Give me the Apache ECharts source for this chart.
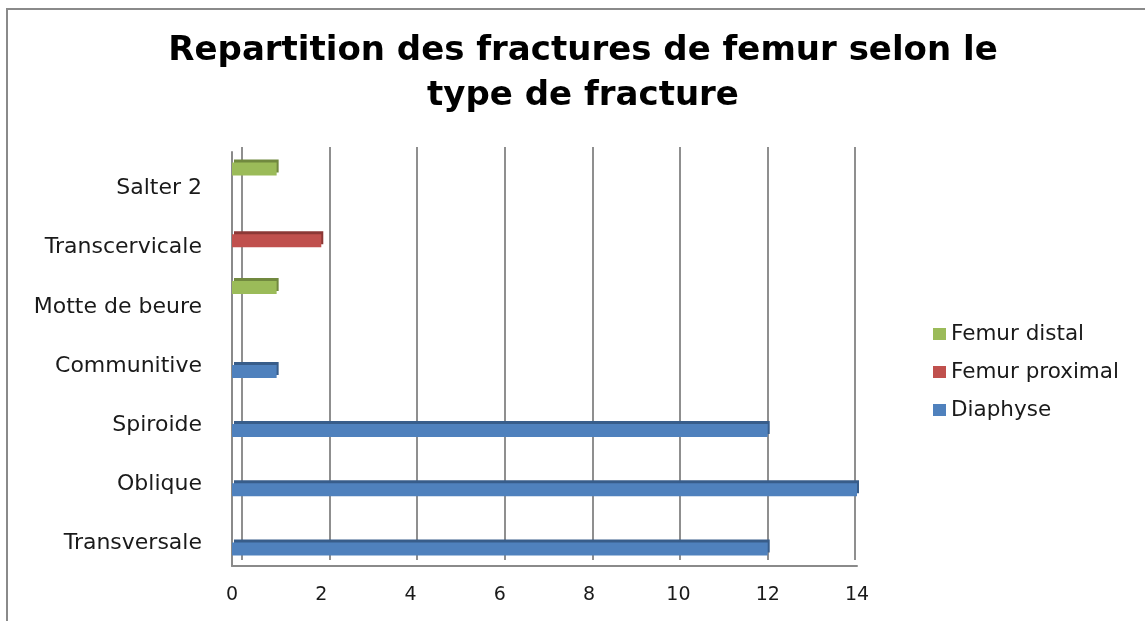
<!DOCTYPE html>
<html>
<head>
<meta charset="utf-8">
<script src="https://cdn.jsdelivr.net/npm/echarts@6/dist/echarts.min.js"></script>
<style>
  html, body { margin: 0; padding: 0; background: #fff; overflow: hidden; }
  #frame {
    position: absolute; left: 6px; top: 8px; width: 1200px; height: 700px;
    border-left: 2px solid #8a8a8a; border-top: 2px solid #8a8a8a;
  }
  #chart { position: absolute; left: 0; top: 0; width: 1145px; height: 621px; }
</style>
</head>
<body>
<div id="frame"></div>
<div id="chart"></div>
<script>
// categories from bottom to top
const categories = ['Transversale', 'Oblique', 'Spiroide', 'Communitive', 'Motte de beure', 'Transcervicale', 'Salter 2']
const diaphyse = [12, 14, 12, 1, null, null, null]
const femurProximal = [null, null, null, null, null, 2, null]
const femurDistal = [null, null, null, null, 1, null, 1]
const xTicks = [0, 2, 4, 6, 8, 10, 12, 14]

const myChart = echarts.init(document.getElementById('chart'))

const font = '"DejaVu Sans", sans-serif'

function bar (name, data, color, dark) {
  return {
    name: name,
    type: 'bar',
    data: data,
    xAxisIndex: 0,
    yAxisIndex: 0,
    barWidth: 13,
    barGap: '-4%',
    itemStyle: {
      color: color,
      shadowColor: dark,
      shadowBlur: 0,
      shadowOffsetX: 2,
      shadowOffsetY: -3
    }
  }
}

const option = {
  animation: false,
  title: {
    text: 'Repartition des fractures de femur selon le\ntype de fracture',
    left: 578,
    textAlign: 'center',
    top: 24,
    textStyle: {
      fontFamily: font,
      fontWeight: 'bold',
      fontSize: 34,
      lineHeight: 45,
      color: '#000'
    }
  },
  legend: {
    orient: 'vertical',
    left: 928,
    top: 318,
    icon: 'rect',
    itemWidth: 13,
    itemHeight: 12,
    itemGap: 16,
    textStyle: { fontFamily: font, fontSize: 21.5, color: '#1a1a1a' },
    data: ['Femur distal', 'Femur proximal', 'Diaphyse']
  },
  grid: [
    // front plane: bars and labels
    { left: 232, top: 152, width: 625, height: 414 },
    // back wall: gridlines
    { left: 242, top: 147, width: 613, height: 413 }
  ],
  xAxis: [
    {
      gridIndex: 0,
      type: 'value',
      min: 0,
      max: 14,
      interval: 2,
      axisLine: { show: true, lineStyle: { color: '#8a8a8a', width: 2 } },
      axisTick: { show: false },
      splitLine: { show: false },
      axisLabel: {
        margin: 20,
        fontFamily: font,
        fontSize: 19,
        color: '#1a1a1a',
        formatter: (v) => (xTicks.includes(v) ? String(v) : '')
      }
    },
    {
      gridIndex: 1,
      type: 'value',
      min: 0,
      max: 14,
      interval: 2,
      axisLine: { show: false },
      axisTick: { show: false },
      axisLabel: { show: false },
      splitLine: { show: true, lineStyle: { color: '#8f8f8f', width: 2 } }
    }
  ],
  yAxis: [
    {
      gridIndex: 0,
      type: 'category',
      data: categories,
      offset: 4,
      axisLine: { show: true, lineStyle: { color: '#8a8a8a', width: 2 } },
      axisTick: { show: false },
      axisLabel: {
        margin: 26,
        fontFamily: font,
        fontSize: 22,
        color: '#1a1a1a',
        verticalAlign: 'top',
        lineHeight: 14
      }
    },
    {
      gridIndex: 1,
      type: 'category',
      data: categories,
      axisLine: { show: false },
      axisTick: { show: false },
      axisLabel: { show: false }
    }
  ],
  series: [
    bar('Femur distal', femurDistal, '#9BBB59', '#71893F'),
    bar('Femur proximal', femurProximal, '#C0504D', '#8C3836'),
    bar('Diaphyse', diaphyse, '#4F81BD', '#385D8A')
  ]
}

myChart.setOption(option)
</script>
</body>
</html>
